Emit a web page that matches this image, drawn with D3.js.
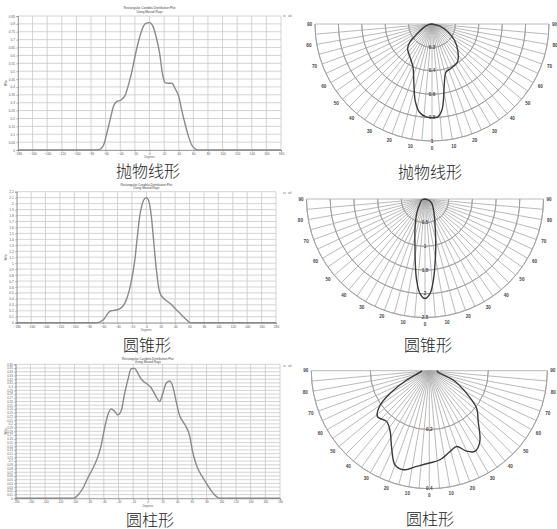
<!DOCTYPE html>
<html><head><meta charset="utf-8">
<script src="https://cdn.jsdelivr.net/npm/d3@7/dist/d3.min.js"></script>
<style>body{margin:0;background:#fff}svg{display:block}</style>
</head><body>
<script>
// ---------- data ----------
const captions = ["抛物线形", "圆锥形", "圆柱形"];
const titleLines = ["Rectangular Candela Distribution Plot", "Using Moved Rays"];
const xTicks = d3.range(-180, 181, 20);
const polarAngleTicks = d3.range(-90, 91, 10);

// rectangular curves (degrees, value)
const paraDeg = [-180,-72,-68,-63,-59,-54,-49,-45,-39,-33,-29,-24,-20,-15,-10.5,-6,0,4.6,9,14,18,21.5,26,30.7,35,40,44,49,53.5,58,63,67,180];
const paraVal = [0,0,0.004,0.03,0.095,0.19,0.28,0.307,0.317,0.35,0.41,0.50,0.59,0.69,0.76,0.80,0.808,0.786,0.72,0.61,0.476,0.427,0.423,0.423,0.39,0.34,0.254,0.16,0.085,0.03,0.006,0,0];

const coneDeg = [-180,-70,-65,-58,-53.5,-49,-42,-36,-30,-25.6,-21,-16,-13,-9.3,-5.6,-1.9,0,2.8,7,10,14,17.7,21,28,35,42,49,56,60,65,180];
const coneVal = [0,0,0.01,0.07,0.157,0.20,0.213,0.24,0.325,0.46,0.69,1.05,1.39,1.78,2.0,2.09,2.1,2.06,1.78,1.39,0.885,0.55,0.45,0.37,0.30,0.213,0.13,0.045,0.006,0,0];

const cylDeg = [-180,-102,-95,-88.5,-82,-75,-68,-63.5,-59,-54.5,-50,-45,-41,-36,-32,-27,-22.7,-18,-13.6,-9,-2.3,4.5,11.3,16,20.4,25,29.5,34,38.6,43,47.7,52,56.7,61,66,70,77,84,91,97.6,180];
const cylVal = [0,0,0.009,0.027,0.054,0.08,0.112,0.143,0.188,0.224,0.24,0.233,0.224,0.237,0.278,0.32,0.348,0.349,0.336,0.32,0.309,0.297,0.273,0.26,0.282,0.309,0.315,0.30,0.26,0.224,0.206,0.193,0.17,0.125,0.09,0.072,0.049,0.027,0.009,0,0];

// polar curves (degrees from nadir, value)
const pParaDeg = [-90,-78,-65,-55.5,-51,-45,-38.5,-30.3,-24,-17,-12.4,-8.2,-3.7,0,3.5,6.6,8.5,11.7,16.4,23,34,44.6,54.4,64,75,90];
const pParaVal = [0,0.035,0.088,0.166,0.242,0.295,0.32,0.357,0.40,0.53,0.67,0.76,0.796,0.80,0.795,0.74,0.66,0.52,0.426,0.413,0.39,0.313,0.235,0.15,0.065,0];

const pConeDeg = [-90,-73,-49,-30,-17.9,-11.8,-8.5,-5.9,-3,0,3,5.9,8.8,12.6,18.4,32,57,73,90];
const pConeVal = [0,0.07,0.14,0.35,0.69,1.03,1.38,1.72,2.0,2.1,2.0,1.72,1.38,1.04,0.69,0.36,0.17,0.07,0];

const pCylDeg = [-90,-82,-67.6,-60,-55,-48.5,-39.9,-32.8,-25.9,-20,-14.7,-7.5,0,6.8,14.3,19.8,24.7,29.4,35.5,43.9,51.5,58.7,68.7,79.5,90];
const pCylVal = [0.025,0.03,0.083,0.153,0.203,0.235,0.225,0.245,0.292,0.34,0.347,0.327,0.313,0.304,0.283,0.273,0.30,0.314,0.295,0.239,0.205,0.148,0.087,0.031,0.025];

const rectYMax = [0.85, 2.2, 0.36];
const rectYStep = [0.05, 0.1, 0.01];
const polarRings = [[0.2,0.4,0.6,0.8,1], [0.5,1,1.5,2,2.5], [0.2,0.4]];

// ---------- drawing ----------
const svg = d3.select("body").append("svg").attr("width", 557).attr("height", 529);
const FONT = "'Liberation Sans', 'DejaVu Sans', sans-serif";

function caption(xc, yc, txt) {
  svg.append("text").attr("x", xc).attr("y", yc).attr("text-anchor", "middle")
    .attr("font-size", 16).attr("fill", "#222")
    .attr("font-family", "'Noto Sans CJK SC'").attr("font-weight", 300).text(txt);
}

function rectPlot(o, degs, vals) {
  const x = d3.scaleLinear().domain([-180, 180]).range([o.x0, o.x1]);
  const y = d3.scaleLinear().domain([0, o.yMax]).range([o.y0, o.y1]);
  const n = Math.round(o.yMax / o.step);
  const yt = d3.range(0, n + 1).map(i => +(i * o.step).toFixed(3));
  const g = svg.append("g");
  g.append("g").selectAll("line").data(xTicks).join("line")
    .attr("x1", d => x(d)).attr("x2", d => x(d)).attr("y1", o.y0).attr("y2", o.y1)
    .attr("stroke", "#c8c8c8").attr("stroke-width", 0.8);
  g.append("g").selectAll("line").data(yt).join("line")
    .attr("x1", o.x0).attr("x2", o.x1).attr("y1", d => y(d)).attr("y2", d => y(d))
    .attr("stroke", "#c8c8c8").attr("stroke-width", 0.8);
  const ax = g.append("g").attr("transform", `translate(0,${o.y0})`)
    .call(d3.axisBottom(x).tickValues(xTicks).tickSize(1.5).tickPadding(1.5).tickFormat(d3.format("d")));
  const ay = g.append("g").attr("transform", `translate(${o.x0},0)`)
    .call(d3.axisLeft(y).tickValues(yt).tickSize(1.5).tickPadding(1.5).tickFormat(d => String(d)));
  [ax, ay].forEach(a => {
    a.selectAll("text").attr("font-size", o.fs).attr("fill", "#555").attr("font-family", FONT);
    a.selectAll("line, path").attr("stroke", "#777").attr("stroke-width", 0.6);
  });
  const pts = degs.map((d, i) => [d, vals[i]]);
  g.append("path").datum(pts)
    .attr("d", d3.line().x(d => x(d[0])).y(d => y(d[1])).curve(d3.curveMonotoneX))
    .attr("fill", "none").attr("stroke", "#8a8a8a").attr("stroke-width", 1.4);
  const cx = (o.x0 + o.x1) / 2;
  g.selectAll(".tt").data(titleLines).join("text")
    .attr("x", cx).attr("y", (d, i) => o.ty + i * 3.6).attr("text-anchor", "middle")
    .attr("font-size", 3.1).attr("fill", "#444").attr("font-family", FONT).text(d => d);
  g.append("text").attr("x", x(0)).attr("y", o.y0 + 8.4).attr("text-anchor", "middle")
    .attr("font-size", 2.8).attr("fill", "#555").attr("font-family", FONT).text("Degrees");
  g.append("text").attr("transform", `translate(7,${(o.y0 + o.y1) / 2}) rotate(-90)`)
    .attr("text-anchor", "middle").attr("font-size", 3.2).attr("fill", "#555")
    .attr("font-family", FONT).text("W/sr");
  g.append("line").attr("x1", 283).attr("x2", 286).attr("y1", o.ly).attr("y2", o.ly)
    .attr("stroke", "#888").attr("stroke-width", 0.8);
  g.append("text").attr("x", 288).attr("y", o.ly + 1).attr("font-size", 3.2)
    .attr("fill", "#666").attr("font-family", FONT).text("cd");
  caption(o.capX, o.capY, o.caption);
}

function polarPlot(o, degs, vals, rings) {
  const rMax = rings[rings.length - 1];
  const r = d3.scaleLinear().domain([0, rMax]).range([0, o.R]);
  const a = d3.scaleLinear().domain([-90, 90]).range([1.5 * Math.PI, 0.5 * Math.PI]);
  const g = svg.append("g").attr("transform", `translate(${o.cx},${o.cy})`);
  const spokes = d3.range(-90, 91, 5);
  g.append("g").selectAll("line").data(spokes).join("line")
    .attr("x1", 0).attr("y1", 0)
    .attr("x2", d => o.R * Math.sin(d * Math.PI / 180))
    .attr("y2", d => o.R * Math.cos(d * Math.PI / 180))
    .attr("stroke", "#a8a8a8").attr("stroke-width", 0.8);
  const arc = d3.arc().startAngle(0.5 * Math.PI).endAngle(1.5 * Math.PI);
  g.append("g").selectAll("path").data(rings).join("path")
    .attr("d", d => arc({innerRadius: r(d), outerRadius: r(d)}))
    .attr("fill", "none").attr("stroke", "#a0a0a0").attr("stroke-width", 0.9);
  g.append("g").selectAll("text").data(polarAngleTicks).join("text")
    .attr("x", d => (o.R + (Math.abs(d) === 90 ? 5.5 : 8)) * Math.sin(d * Math.PI / 180))
    .attr("y", d => (o.R + 7) * Math.cos(d * Math.PI / 180))
    .attr("text-anchor", "middle").attr("dominant-baseline", "central")
    .attr("font-size", 4.6).attr("font-weight", "bold").attr("fill", "#444")
    .attr("font-family", FONT).text(d => Math.abs(d));
  const pts = degs.map((d, i) => [a(d), r(vals[i])]);
  g.append("path").datum(pts)
    .attr("d", d3.lineRadial().angle(d => d[0]).radius(d => d[1]).curve(d3.curveCatmullRom))
    .attr("fill", "none").attr("stroke", "#3a3a3a").attr("stroke-width", 1.4);
  g.append("g").selectAll("text").data(rings).join("text")
    .attr("x", 0).attr("y", d => r(d)).attr("text-anchor", "middle").attr("dominant-baseline", "central")
    .attr("font-size", 4.6).attr("font-weight", "bold").attr("fill", "#444")
    .attr("font-family", FONT).text(d => String(d));
  caption(o.capX, o.capY, o.caption);
}

rectPlot({x0: 18, x1: 281, y0: 150, y1: 16, yMax: rectYMax[0], step: rectYStep[0], fs: 3.2,
  ty: 9, ly: 16, capX: 148, capY: 177, caption: captions[0]}, paraDeg, paraVal);
rectPlot({x0: 16.7, x1: 276, y0: 322.7, y1: 191.7, yMax: rectYMax[1], step: rectYStep[1], fs: 3.2,
  ty: 185.5, ly: 193, capX: 147, capY: 350.5, caption: captions[1]}, coneDeg, coneVal);
rectPlot({x0: 15.7, x1: 280, y0: 498.3, y1: 364.3, yMax: rectYMax[2], step: rectYStep[2], fs: 2.8,
  ty: 359.5, ly: 366, capX: 150, capY: 525.5, caption: captions[2]}, cylDeg, cylVal);

polarPlot({cx: 432, cy: 24, R: 117, capX: 430, capY: 178, caption: captions[0]}, pParaDeg, pParaVal, polarRings[0]);
polarPlot({cx: 425, cy: 199, R: 118.5, capX: 428, capY: 350.5, caption: captions[1]}, pConeDeg, pConeVal, polarRings[1]);
polarPlot({cx: 429.3, cy: 370.7, R: 118, capX: 430, capY: 524.5, caption: captions[2]}, pCylDeg, pCylVal, polarRings[2]);
</script>
</body></html>
